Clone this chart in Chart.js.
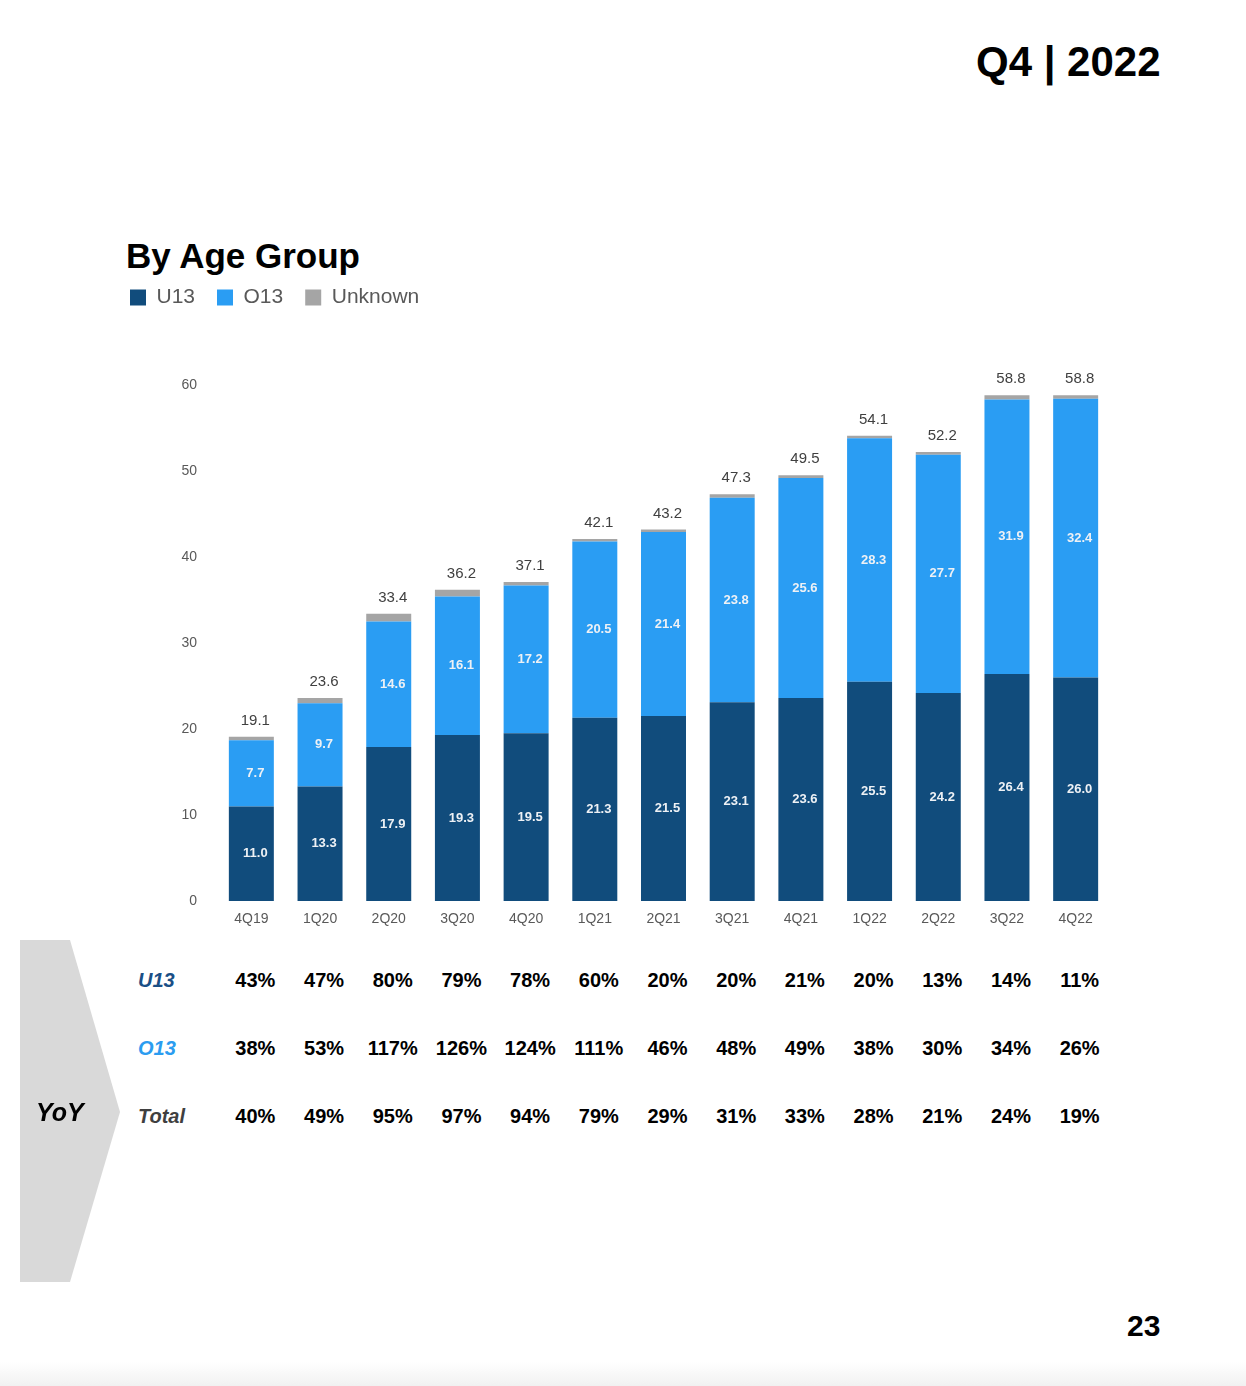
<!DOCTYPE html>
<html>
<head>
<meta charset="utf-8">
<script src="https://cdn.jsdelivr.net/npm/chart.js@4.4.0/dist/chart.umd.min.js"></script>
<style>
html,body{margin:0;padding:0;background:#fff;}
body{width:1246px;height:1386px;position:relative;overflow:hidden;font-family:"Liberation Sans",Arial,sans-serif;}
.abs{position:absolute;white-space:nowrap;}
#period{left:976px;top:37px;font-size:42px;line-height:50px;font-weight:bold;color:#000;}
#heading{left:126px;top:236px;font-size:35px;line-height:40px;font-weight:bold;color:#000;}
#pageNum{left:1127px;top:1306px;font-size:30px;line-height:40px;font-weight:bold;color:#000;}
#chev{left:20px;top:940px;width:100px;height:342px;background:#d9d9d9;
  clip-path:polygon(0 0,50px 0,100px 172px,50px 342px,0 342px);}
#yoy{left:36px;top:1096px;font-size:25px;line-height:32px;font-weight:bold;font-style:italic;color:#000;}
.rowlab{font-size:20px;line-height:28px;font-weight:bold;font-style:italic;}
.cell{width:90px;text-align:center;font-size:20px;line-height:28px;font-weight:bold;color:#000;}
#chartBox{position:absolute;left:0;top:265px;width:1246px;height:680px;}
#fade{left:0;top:1362px;width:1246px;height:24px;background:linear-gradient(#ffffff,#f1f1f1);}
</style>
</head>
<body>
<div class="abs" id="period">Q4 | 2022</div>
<div class="abs" id="heading">By Age Group</div>
<div id="chartBox"><canvas id="c" width="1246" height="680"></canvas></div>
<div class="abs" id="chev"></div>
<div class="abs" id="yoy">YoY</div>
<div class="abs" id="pageNum">23</div>
<div class="abs" id="fade"></div>
<script>
const categories = ['4Q19','1Q20','2Q20','3Q20','4Q20','1Q21','2Q21','3Q21','4Q21','1Q22','2Q22','3Q22','4Q22'];
const u13Values = [11.0,13.3,17.9,19.3,19.5,21.3,21.5,23.1,23.6,25.5,24.2,26.4,26.0];
const o13Values = [7.7,9.7,14.6,16.1,17.2,20.5,21.4,23.8,25.6,28.3,27.7,31.9,32.4];
const unknownValues = [0.4,0.6,0.9,0.8,0.4,0.3,0.3,0.4,0.3,0.3,0.3,0.5,0.4];
const totalValues = [19.1,23.6,33.4,36.2,37.1,42.1,43.2,47.3,49.5,54.1,52.2,58.8,58.8];
const yTicks = [0,10,20,30,40,50,60];
const yoyU13 = ['43%','47%','80%','79%','78%','60%','20%','20%','21%','20%','13%','14%','11%'];
const yoyO13 = ['38%','53%','117%','126%','124%','111%','46%','48%','49%','38%','30%','34%','26%'];
const yoyTotal = ['40%','49%','95%','97%','94%','79%','29%','31%','33%','28%','21%','24%','19%'];
const seriesNames = ['U13','O13','Unknown'];
const seriesColors = ['#114c7c','#2a9df3','#a5a5a5'];

const FONT = '"Liberation Sans", Arial, sans-serif';

const legendSpacer = {
  id: 'legendSpacer',
  beforeLayout(chart) {
    const lg = chart.legend;
    if (lg && !lg._spaced) {
      const orig = lg.fit;
      lg.fit = function() { orig.call(this); this.height += 67; };
      lg._spaced = true;
    }
  }
};

const valueLabels = {
  id: 'valueLabels',
  afterDatasetsDraw(chart) {
    const ctx = chart.ctx;
    ctx.save();
    ctx.textAlign = 'center';
    ctx.textBaseline = 'middle';
    ctx.font = 'bold 13px ' + FONT;
    ctx.fillStyle = '#eef1f5';
    [0, 1].forEach(di => {
      const meta = chart.getDatasetMeta(di);
      const vals = chart.data.datasets[di].data;
      meta.data.forEach((el, i) => {
        ctx.fillText(vals[i].toFixed(1), el.x + 4, (el.y + el.base) / 2);
      });
    });
    const topMeta = chart.getDatasetMeta(2);
    ctx.font = '15px ' + FONT;
    ctx.fillStyle = '#404040';
    topMeta.data.forEach((el, i) => {
      ctx.fillText(totalValues[i].toFixed(1), el.x + 4, el.y - 16);
    });
    ctx.restore();
  }
};

const chart = new Chart(document.getElementById('c'), {
  type: 'bar',
  data: {
    labels: categories,
    datasets: [
      { label: seriesNames[0], data: u13Values, backgroundColor: seriesColors[0] },
      { label: seriesNames[1], data: o13Values, backgroundColor: seriesColors[1] },
      { label: seriesNames[2], data: unknownValues, backgroundColor: seriesColors[2] }
    ]
  },
  options: {
    responsive: false,
    animation: false,
    devicePixelRatio: 1,
    layout: { padding: { left: 108, right: 136, top: 0, bottom: 0 } },
    datasets: { bar: { barPercentage: 0.655, categoryPercentage: 1.0, borderWidth: 0 } },
    scales: {
      x: {
        stacked: true,
        grid: { display: false, drawTicks: false },
        border: { display: false },
        ticks: { color: '#595959', font: { family: FONT, size: 14 }, padding: 10, maxRotation: 0 },
        afterFit(s) { s.height = 44; }
      },
      y: {
        stacked: true,
        min: 0, max: 60,
        grid: { display: false, drawTicks: false },
        border: { display: false },
        afterBuildTicks(s) { s.ticks = yTicks.map(v => ({ value: v })); },
        ticks: { color: '#595959', font: { family: FONT, size: 14 }, padding: 20 },
        afterFit(s) { s.width = 109; }
      }
    },
    plugins: {
      legend: {
        position: 'top',
        align: 'start',
        labels: {
          boxWidth: 16, boxHeight: 16, padding: 22,
          color: '#595959',
          font: { family: FONT, size: 21 }
        }
      },
      tooltip: { enabled: false }
    }
  },
  plugins: [legendSpacer, valueLabels]
});

// YoY table aligned with the bar positions from the x scale
const xs = chart.scales.x;
const rows = [
  { name: 'U13', color: '#1a4f86', vals: yoyU13, y: 980 },
  { name: 'O13', color: '#2b9cf0', vals: yoyO13, y: 1048 },
  { name: 'Total', color: '#3f3f3f', vals: yoyTotal, y: 1116 }
];
rows.forEach(r => {
  const lab = document.createElement('div');
  lab.className = 'abs rowlab';
  lab.style.left = '138px';
  lab.style.top = (r.y - 14) + 'px';
  lab.style.color = r.color;
  lab.textContent = r.name;
  document.body.appendChild(lab);
  r.vals.forEach((v, i) => {
    const c = document.createElement('div');
    c.className = 'abs cell';
    c.style.left = (xs.getPixelForValue(i) + 4 - 45) + 'px';
    c.style.top = (r.y - 14) + 'px';
    c.textContent = v;
    document.body.appendChild(c);
  });
});
</script>
</body>
</html>
